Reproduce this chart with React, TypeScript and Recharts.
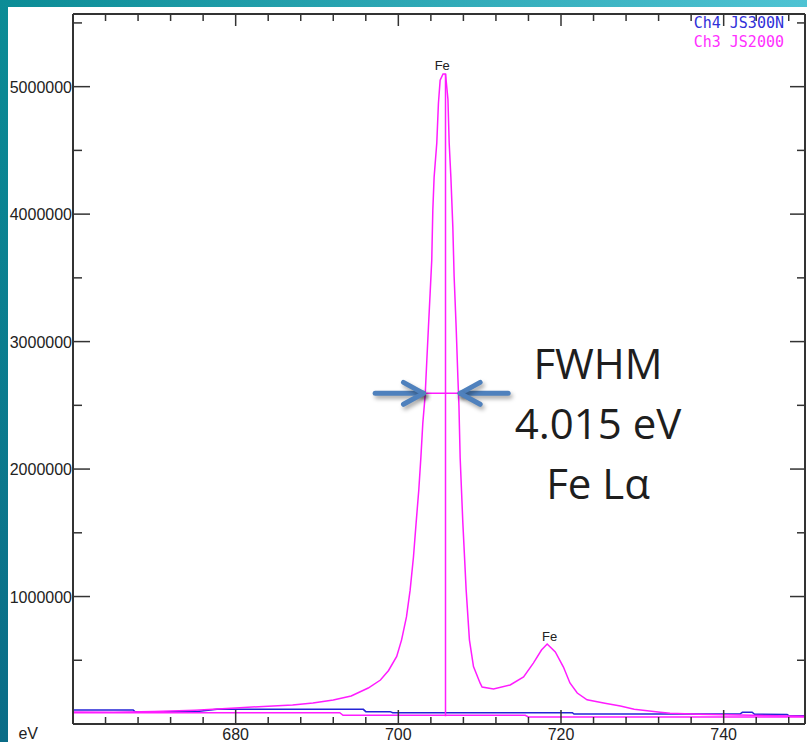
import React from "react";
import {
  LineChart,
  Line,
  XAxis,
  YAxis,
  ReferenceLine,
  ReferenceDot,
} from "recharts";

// Ch3 JS2000 spectrum (energy in eV, counts)
const specEv = [
  660, 665, 670, 675, 680, 684, 687, 689.5, 692, 694.2, 696.3, 697.8, 698.8, 699.8,
  700.4, 701, 701.45, 701.86, 702.19, 702.52, 702.77, 703.01, 703.3, 703.5, 703.7,
  703.91, 704.11, 704.24, 704.4, 704.73, 704.93, 705.14, 705.5, 705.8, 706.1, 706.25,
  706.46, 706.7, 706.86, 707.11, 707.32, 707.45, 707.6, 707.93, 708.34, 708.74, 709.24,
  710.06, 710.3, 711.7, 713.75, 715.4, 716.6, 717.6, 718.3, 719.3, 720.3, 721.1, 722,
  723.2, 725.4, 727.3, 729, 732.2, 733.4, 737, 742, 750,
];
const specCounts = [
  95000, 92000, 98000, 108000, 125000, 140000, 149000, 165000, 188000, 220000, 282000,
  345000, 420000, 530000, 660000, 840000, 1050000, 1310000, 1580000, 1840000, 2090000,
  2360000, 2580000, 2850000, 3110000, 3380000, 3640000, 4030000, 4290000, 4560000,
  4870000, 5050000, 5100000, 5100000, 4900000, 4560000, 4290000, 3900000, 3510000,
  3110000, 2720000, 2500000, 2090000, 1580000, 1050000, 660000, 450000, 320000, 290000,
  275000, 306000, 369000, 478000, 580000, 627000, 565000, 447000, 322000, 243000, 190000,
  163000, 141000, 115000, 92000, 84000, 76000, 70000, 60000,
];

// Ch3 flat background trace
const baseEv = [660, 692.8, 693.2, 715.6, 716, 750];
const baseCounts = [88000, 88000, 68000, 68000, 55000, 55000];

// Ch4 JS300N trace
const ch4Ev = [
  660, 667.4, 667.6, 675, 677.7, 695.7, 696, 699, 699.3, 721.4, 721.6, 742, 742.3, 743.5,
  743.8, 747.8, 748, 750,
];
const ch4Counts = [
  110000, 110000, 97000, 97000, 115000, 115000, 97000, 97000, 89000, 89000, 78000, 78000,
  92000, 92000, 76000, 75000, 65000, 65000,
];

const xTicks = [
  660, 664, 668, 672, 676, 680, 684, 688, 692, 696, 700, 704, 708, 712, 716, 720, 724,
  728, 732, 736, 740, 744, 748,
];
const xMajor = [680, 700, 720, 740];
const yTicks = [
  0, 500000, 1000000, 1500000, 2000000, 2500000, 3000000, 3500000, 4000000, 4500000,
  5000000, 5500000,
];
const yMajor = [1000000, 2000000, 3000000, 4000000, 5000000];

const legendNames = ["Ch4 JS300N", "Ch3 JS2000"];

// annotation anchors
const peakEv = 705.8;
const peakCounts = 5100000;
const fwhmCounts = 2594000;
const fwhmLeft = 703.09;
const fwhmRight = 707.6;

const toPoints = (ev: number[], counts: number[]) =>
  ev.map((e, i) => ({ ev: e, counts: counts[i] }));

const specData = toPoints(specEv, specCounts);
const baseData = toPoints(baseEv, baseCounts);
const ch4Data = toPoints(ch4Ev, ch4Counts);

const AXIS = "#333";
const MAGENTA = "#ff1cff";
const BLUE = "#2424d6";
const ARROW = "#4f81bd";
const SANS = "Liberation Sans, Arial, sans-serif";

const BottomTick = (props: any) => {
  const { x, y, payload } = props;
  const major = xMajor.includes(payload.value);
  return (
    <g>
      <line x1={x} x2={x} y1={y} y2={y - (major ? 14 : 7)} stroke={AXIS} strokeWidth={1.5} />
      {major && (
        <text x={x} y={y + 16} textAnchor="middle" fontSize={16} fill="#222" fontFamily={SANS}>
          {payload.value}
        </text>
      )}
    </g>
  );
};

const TopTick = (props: any) => {
  const { x, y, payload } = props;
  const major = xMajor.includes(payload.value);
  return <line x1={x} x2={x} y1={y} y2={y + (major ? 12 : 7)} stroke={AXIS} strokeWidth={1.5} />;
};

const LeftTick = (props: any) => {
  const { x, y, payload } = props;
  const major = yMajor.includes(payload.value);
  return (
    <g>
      <line x1={x} x2={x + (major ? 17 : 9)} y1={y} y2={y} stroke={AXIS} strokeWidth={1.5} />
      {major && (
        <text x={x - 1} y={y + 6} textAnchor="end" fontSize={16} fill="#222" fontFamily={SANS}>
          {payload.value}
        </text>
      )}
    </g>
  );
};

const RightTick = (props: any) => {
  const { x, y, payload } = props;
  const major = yMajor.includes(payload.value);
  return <line x1={x} x2={x - (major ? 15 : 8)} y1={y} y2={y} stroke={AXIS} strokeWidth={1.5} />;
};

const arrowShape = (p: any) => (
  <line x1={p.x1} y1={p.y1} x2={p.x2} y2={p.y2} stroke={ARROW} strokeWidth={5}
    strokeLinecap="round" style={{ filter: "drop-shadow(2px 3px 2px rgba(0,0,0,0.35))" }} />
);

const arrowSegments = (tail: number, tip: number, barb: number) => [
  [{ x: tail, y: fwhmCounts }, { x: tip, y: fwhmCounts }],
  [{ x: barb, y: fwhmCounts + 86000 }, { x: tip, y: fwhmCounts }],
  [{ x: barb, y: fwhmCounts - 86000 }, { x: tip, y: fwhmCounts }],
];

const App = () => {
  const arrows = [
    ...arrowSegments(697.15, fwhmLeft, 700.63),
    ...arrowSegments(713.5, fwhmRight, 710.06),
  ];
  return (
    <div style={{ position: "absolute", left: 0, top: 0, width: 807, height: 742, overflow: "hidden",
      background: "linear-gradient(to bottom, #0b8c96, #0a6c87)" }}>
      <div style={{ position: "absolute", left: 0, top: 0, width: 807, height: 7,
        background: "linear-gradient(to right, #0b8c96, #4fc3d3)" }} />
      <div style={{ position: "absolute", left: 8, top: 7, width: 799, height: 735, background: "#fff" }}>
        <LineChart width={799} height={735} margin={{ top: 0, right: 0, bottom: 0, left: 0 }}>
          <XAxis dataKey="ev" type="number" domain={[660, 750]} allowDataOverflow ticks={xTicks}
            interval={0} height={18} tickSize={0} tickMargin={0} tickLine={false} tick={BottomTick}
            axisLine={{ stroke: AXIS, strokeWidth: 2 }}
            label={{ value: "eV", position: "left", offset: 35, dy: 0, fontSize: 16, fill: "#222",
              fontFamily: SANS }} />
          <XAxis xAxisId="top" orientation="top" dataKey="ev" type="number" domain={[660, 750]}
            allowDataOverflow ticks={xTicks} interval={0} height={7} tickSize={0} tickMargin={0}
            tickLine={false} tick={TopTick} axisLine={{ stroke: AXIS, strokeWidth: 2 }} />
          <YAxis type="number" domain={[0, 5570000]} allowDataOverflow ticks={yTicks} interval={0}
            width={65} tickSize={0} tickMargin={0} tickLine={false} tick={LeftTick}
            axisLine={{ stroke: AXIS, strokeWidth: 2 }} />
          <YAxis yAxisId="right" orientation="right" type="number" domain={[0, 5570000]}
            allowDataOverflow ticks={yTicks} interval={0} width={2} tickSize={0} tickMargin={0}
            tickLine={false} tick={RightTick} axisLine={{ stroke: AXIS, strokeWidth: 2 }} />
          <Line data={ch4Data} dataKey="counts" name={legendNames[0]} type="linear" stroke={BLUE}
            strokeWidth={1.5} dot={false} isAnimationActive={false} />
          <Line data={baseData} dataKey="counts" name="background" type="linear"
            stroke={MAGENTA} strokeWidth={1.5} dot={false} isAnimationActive={false} />
          <Line data={specData} dataKey="counts" name={legendNames[1]} type="linear" stroke={MAGENTA}
            strokeWidth={1.5} dot={false} isAnimationActive={false} />
          <ReferenceLine segment={[{ x: peakEv, y: 60000 }, { x: peakEv, y: peakCounts }]}
            stroke={MAGENTA} strokeWidth={1.5} />
          <ReferenceLine segment={[{ x: fwhmLeft, y: fwhmCounts }, { x: fwhmRight, y: fwhmCounts }]}
            stroke={MAGENTA} strokeWidth={1.5} />
          <ReferenceDot x={705.4} y={peakCounts} r={0} fill="none" stroke="none"
            label={{ value: "Fe", position: "top", offset: 4, fontSize: 13, fill: "#222", fontFamily: SANS }} />
          <ReferenceDot x={718.6} y={627000} r={0} fill="none" stroke="none"
            label={{ value: "Fe", position: "top", offset: 3, fontSize: 13, fill: "#222", fontFamily: SANS }} />
          {arrows.map((seg, i) => (
            <ReferenceLine key={i} segment={seg} shape={arrowShape} />
          ))}
        </LineChart>
        <div style={{ position: "absolute", top: 7, right: 23, textAlign: "right",
          fontFamily: "DejaVu Sans Mono, monospace", fontSize: 15, lineHeight: "19px" }}>
          <div style={{ color: "#3030d8" }}>{legendNames[0]}</div>
          <div style={{ color: "#ff30ff" }}>{legendNames[1]}</div>
        </div>
        <div style={{ position: "absolute", left: 440, top: 326, width: 300, textAlign: "center",
          fontFamily: "Open Sans, sans-serif", fontSize: 42, lineHeight: "60px", color: "#1e1e1e" }}>
          <div>FWHM</div>
          <div>4.015 eV</div>
          <div>Fe Lα</div>
        </div>
      </div>
    </div>
  );
};

export default App;
